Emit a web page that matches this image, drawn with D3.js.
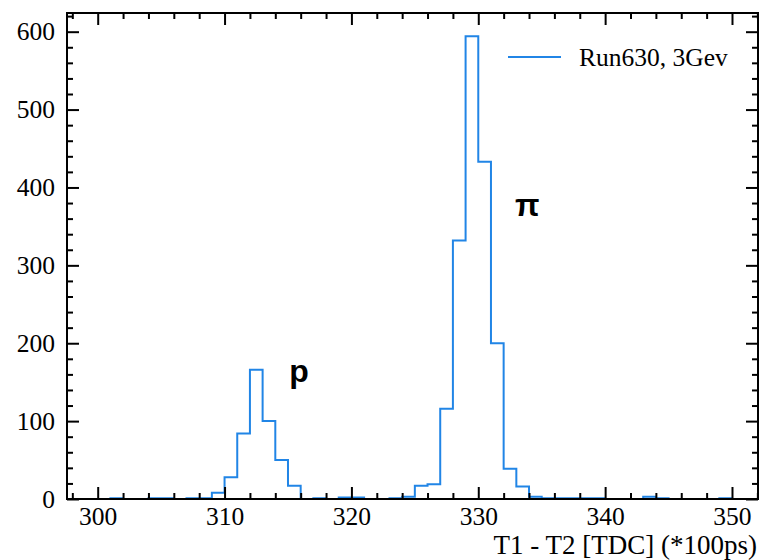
<!DOCTYPE html>
<html>
<head>
<meta charset="utf-8">
<script src="https://cdn.jsdelivr.net/npm/d3@7"></script>
<style>
  body { margin: 0; background: #fff; }
  svg { display: block; }
</style>
</head>
<body>
<div id="chart"></div>
<script>
// bin left edges (width 1) and counts
const binStart = d3.range(300, 351);
const counts = [
  0, 1, 0, 0, 1, 1, 0, 1, 1, 8,        // 300-309
  28, 84, 166, 100, 50, 17, 0, 1, 0, 2, // 310-319
  2, 0, 0, 1, 3, 17, 19, 116, 332, 594, // 320-329
  433, 200, 39, 16, 3, 1, 1, 1, 1, 1,   // 330-339
  0, 0, 0, 3, 1, 0, 0, 0, 0, 1,         // 340-349
  0                                     // 350
];
const xMajor = [300, 310, 320, 330, 340, 350];
const yMajor = [0, 100, 200, 300, 400, 500, 600];
const legendLabel = "Run630, 3Gev";
const xLabel = "T1 - T2 [TDC] (*100ps)";
const peaks = [{name: "p", x: 315.1, y: 150}, {name: "\u03c0", x: 332.9, y: 363}];

const width = 760, height = 560;
const margin = {t: 13, r: 2, b: 61, l: 67};
const lineColor = "#2185e6";
const serif = '"Liberation Serif", "Times New Roman", serif';

const svg = d3.select('#chart').append('svg')
  .attr('width', width)
  .attr('height', height);

const scaleX = d3.scaleLinear().domain([297.58, 352.05]).range([margin.l, width - margin.r]);
const scaleY = d3.scaleLinear().domain([0, 624]).range([height - margin.b, margin.t]);

const xMinor = d3.range(298, 353, 2).filter(d => d % 10 !== 0);
const yMinor = d3.range(0, 624, 20).filter(d => d % 100 !== 0);

const x0 = scaleX.range()[0], x1 = scaleX.range()[1];
const y0 = scaleY.range()[0], y1 = scaleY.range()[1];

// histogram outline (step)
const pts = [[binStart[0], 0]];
binStart.forEach((b, i) => {
  pts.push([b, counts[i]]);
  pts.push([b + 1, counts[i]]);
});
pts.push([binStart[binStart.length - 1] + 1, 0]);

const line = d3.line().x(d => scaleX(d[0])).y(d => scaleY(d[1]));
svg.append('path')
  .attr('d', line(pts))
  .attr('fill', 'none')
  .attr('stroke', lineColor)
  .attr('stroke-width', 2)
  .attr('stroke-linejoin', 'miter');

// axes, ticks pointing inward on all sides
function styleAxis(g) {
  g.select('.domain').remove();
  g.selectAll('line').attr('stroke', '#000').attr('stroke-width', 2);
  g.selectAll('text')
    .style('font-family', serif)
    .style('font-size', '25.5px')
    .attr('fill', '#000');
}

svg.append('g').attr('transform', `translate(0,${y0})`)
  .call(d3.axisBottom(scaleX).tickValues(xMajor).tickSize(-12).tickPadding(7.5).tickFormat(d3.format('d')))
  .call(styleAxis);
svg.append('g').attr('transform', `translate(0,${y0})`)
  .call(d3.axisBottom(scaleX).tickValues(xMinor).tickSize(-6).tickFormat(''))
  .call(styleAxis);
svg.append('g').attr('transform', `translate(0,${y1})`)
  .call(d3.axisTop(scaleX).tickValues(xMajor).tickSize(-12).tickFormat(''))
  .call(styleAxis);
svg.append('g').attr('transform', `translate(0,${y1})`)
  .call(d3.axisTop(scaleX).tickValues(xMinor).tickSize(-6).tickFormat(''))
  .call(styleAxis);

svg.append('g').attr('transform', `translate(${x0},0)`)
  .call(d3.axisLeft(scaleY).tickValues(yMajor).tickSize(-12).tickPadding(12).tickFormat(d3.format('d')))
  .call(styleAxis);
svg.append('g').attr('transform', `translate(${x0},0)`)
  .call(d3.axisLeft(scaleY).tickValues(yMinor).tickSize(-6).tickFormat(''))
  .call(styleAxis);
svg.append('g').attr('transform', `translate(${x1},0)`)
  .call(d3.axisRight(scaleY).tickValues(yMajor).tickSize(-12).tickFormat(''))
  .call(styleAxis);
svg.append('g').attr('transform', `translate(${x1},0)`)
  .call(d3.axisRight(scaleY).tickValues(yMinor).tickSize(-6).tickFormat(''))
  .call(styleAxis);

// frame
svg.append('rect')
  .attr('x', x0).attr('y', y1)
  .attr('width', x1 - x0).attr('height', y0 - y1)
  .attr('fill', 'none')
  .attr('stroke', '#000')
  .attr('stroke-width', 2);

// x label, right aligned
svg.append('text')
  .attr('x', x1 - 1)
  .attr('y', 554)
  .attr('text-anchor', 'end')
  .style('font-family', serif)
  .style('font-size', '27px')
  .text(xLabel);

// legend
svg.append('line')
  .attr('x1', 508).attr('x2', 561)
  .attr('y1', 57).attr('y2', 57)
  .attr('stroke', lineColor)
  .attr('stroke-width', 2);
svg.append('text')
  .attr('x', 579)
  .attr('y', 66)
  .style('font-family', serif)
  .style('font-size', '25.5px')
  .text(legendLabel);

// peak labels
svg.selectAll('.peak')
  .data(peaks)
  .enter().append('text')
  .attr('class', 'peak')
  .attr('x', d => scaleX(d.x))
  .attr('y', d => scaleY(d.y))
  .style('font-family', '"Liberation Sans", Arial, sans-serif')
  .style('font-weight', 'bold')
  .style('font-size', '32px')
  .text(d => d.name);
</script>
</body>
</html>
